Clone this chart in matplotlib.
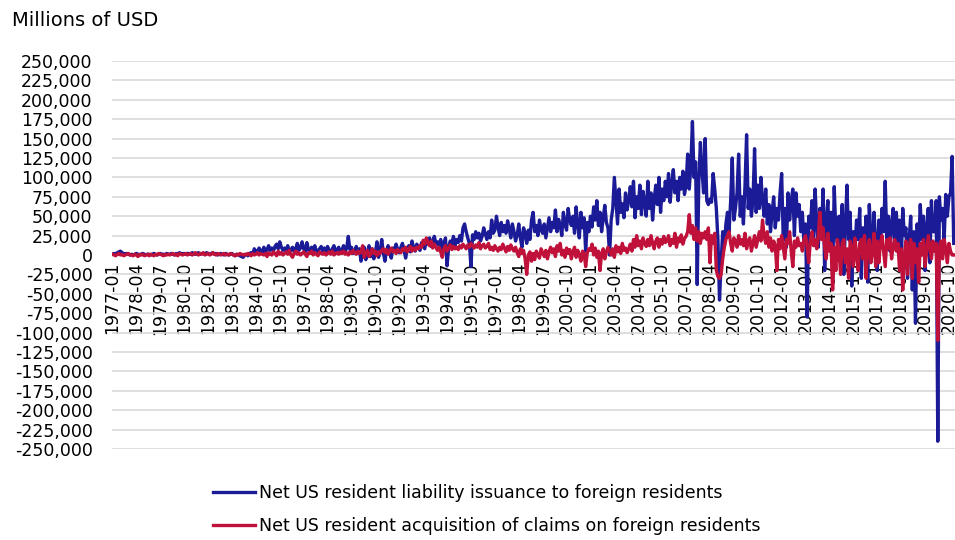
import numpy as np
import matplotlib.pyplot as plt
from matplotlib.ticker import FuncFormatter

# Monthly flows, thousands of millions of USD (i.e. value / 1000), 1977-01 .. 2021-01
liab_k = [
    1, 2, 1, 3, 4, 5, 3, 2, 1, 2, 1, 0,             # 1977
    1, 0, 1, 2, 1, 0, 1, 2, 1, 0, 1, 1,             # 1978
    0, 1, 2, 1, 0, 1, 2, 1, 1, 0, 2, 1,             # 1979
    1, 2, 1, 0, 2, 1, 3, 2, 1, 2, 1, 2,             # 1980
    2, 1, 3, 2, 1, 2, 3, 1, 2, 2, 1, 3,             # 1981
    2, 1, 2, 3, 1, 2, 0, 1, 2, 1, 0, 2,             # 1982
    1, 0, 1, 2, 0, -1, 1, 0, -1, -2, -3, 0,         # 1983
    1, -1, 2, 3, 1, 8, 5, 3, 9, 6, 2, 10,           # 1984
    4, 7, 12, 6, 9, 5, 11, 14, 8, 17, 10, 6,        # 1985
    9, 5, 12, 3, 7, 10, 4, 8, 15, 6, 9, 17,         # 1986
    8, 4, 16, 7, 3, 10, 5, 12, 2, 6, 8, 11,         # 1987
    5, 9, 3, 11, 6, 2, 8, 12, 4, 7, 10, 3,          # 1988
    6, 12, 4, 9, 24, 7, 10, 2, 5, 11, 3, 8,         # 1989
    -8, 2, 10, -6, 4, 12, -2, 8, -5, 3, 17, -3,     # 1990
    5, 20, 3, -8, 6, 12, 2, -4, 9, 5, 14, 7,        # 1991
    3, 10, 15, 6, -4, 8, 12, 4, 18, 9, 5, 14,       # 1992
    10, 6, 16, 12, 8, 20, 14, 22, 11, 18, 24, 15,   # 1993
    17, 12, 20, 8, 15, 22, -14, 10, 18, 14, 24, 12, # 1994
    20, 16, 25, 18, 35, 40, 30, 22, 15, -15, 26, 20,  # 1995
    30, 22, 28, 18, 24, 35, 27, 20, 30, 22, 45, 28,   # 1996
    32, 50, 36, 25, 42, 30, 38, 28, 44, 34, 22, 40,   # 1997
    30, 18, 26, 40, 22, 10, 35, 28, 15, 32, 20, 45,   # 1998
    55, 30, 38, 25, 45, 32, 28, 40, 22, 35, 48, 30,   # 1999
    42, 35, 58, 30, 46, 38, 25, 55, 40, 32, 60, 45,   # 2000
    38, 50, 28, 62, 40, 22, 55, 35, 48, 5, 42, 30,    # 2001
    50, 36, 62, 45, 70, 38, 55, 30, 48, 64, 42, 35,   # 2002
    0, 45, 60, 100, 70, 40, 85, 55, 66, 48, 80, 58,   # 2003
    70, 88, 62, 95, 48, 75, 60, 90, 52, 82, 68, 50,   # 2004
    95, 60, 80, 45, 72, 90, 65, 100, 55, 85, 70, 95,  # 2005
    75, 105, 68, 92, 110, 80, 95, 70, 100, 85, 108, 78,   # 2006
    90, 130, 85, 115, 172, 100, 120, -38, 95, 145, 110, 80,  # 2007
    150, 70, 65, 72, 68, 105, 85, 60, 20, -58, -10, 30,   # 2008
    10, 40, 55, 30, 70, 125, 45, 60, 80, 130, 50, 75,     # 2009
    40, 90, 155, 60, 85, 50, 70, 137, 55, 90, 60, 100,    # 2010
    70, 50, 85, 40, 65, 30, 55, 75, 35, 60, 45, 80,       # 2011
    105, 20, 60, 10, 80, 45, 70, 85, 25, 80, 50, 65,      # 2012
    30, 55, 15, 40, -80, 50, 35, 70, 20, 85, 40, 10,      # 2013
    60, 25, 85, -20, 45, 70, 10, 55, -30, 88, 30, 15,     # 2014
    50, 10, 65, -25, 40, 90, 20, 55, -40, 30, 5, 45,      # 2015
    20, 60, -30, 35, 10, 50, -35, 65, 25, 0, 55, 15,      # 2016
    -20, 45, 10, 60, 30, 95, 20, 50, 5, 40, 60, 15,       # 2017
    55, 10, 45, -15, 60, 25, 35, -30, 20, 50, -45, 30,    # 2018
    -88, 40, 10, 65, 20, 50, -20, 35, 60, -10, 70, 30,    # 2019
    30, 70, -240, 75, 45, 60, 20, 78, 50, 75, 80, 127,    # 2020
    15,                                                   # 2021
]

claims_k = [
    1, 0, -1, 1, 2, 0, 1, -1, 0, 1, 2, 0,           # 1977
    0, -1, 1, 0, -2, 1, 0, 1, -1, 0, 1, -1,         # 1978
    1, 0, -1, 1, 0, 2, 1, 0, -1, 1, 0, 1,           # 1979
    0, 1, 2, 0, 1, -1, 2, 1, 0, 1, 2, 0,            # 1980
    1, 2, 0, 1, 3, 1, 0, 2, 1, 3, 0, 1,             # 1981
    2, 0, 1, 3, 1, 0, 2, 1, 0, 1, 2, 0,             # 1982
    1, 0, 2, 1, 0, -1, 1, 0, 2, 1, 0, 1,            # 1983
    0, 2, 1, -1, 2, 0, 1, 3, 0, 2, 1, 0,            # 1984
    2, -2, 3, 1, 0, 4, 2, -1, 5, 1, 3, 0,           # 1985
    2, 4, 1, 6, 0, -3, 2, 5, 1, 3, 0, 2,            # 1986
    4, 1, -2, 3, 2, 5, 0, 3, 1, -1, 4, 2,           # 1987
    1, 3, 0, 2, 4, 1, 5, 0, 2, 3, 1, 4,             # 1988
    2, 5, 1, 3, 0, 4, 2, 6, 3, 1, 5, 2,             # 1989
    4, 12, -3, 3, 6, -2, 1, 8, 2, 5, -1, 4,         # 1990
    2, 6, 8, 3, 7, 1, 5, 9, 4, 6, 2, 7,             # 1991
    5, 3, 8, 6, 10, 4, 7, 11, 5, 9, 6, 10,          # 1992
    8, 12, 10, 19, 14, 22, 16, 12, 18, 9, 14, 10,   # 1993
    6, 10, 4, -3, 8, 12, 5, 9, 13, 7, 11, 8,        # 1994
    10, 7, 12, 9, 14, 11, 8, 13, 10, 15, 12, 9,     # 1995
    13, 10, 16, 8, 12, 14, 9, 11, 15, 7, 10, 6,     # 1996
    12, 8, 5, 10, 7, 14, 9, 4, 11, 6, 13, 8,        # 1997
    5, 10, 3, -2, 8, 2, 6, -5, -25, 0, 4, -8,       # 1998
    2, -6, 5, 0, -4, 8, 3, -2, 6, -5, 4, 10,        # 1999
    3, 8, -2, 12, 5, 15, 0, 6, -3, 9, 2, 7,         # 2000
    -5, 4, 10, -3, 6, 0, -8, 5, 2, -15, 3, 8,       # 2001
    6, 14, 0, 9, -3, 5, -20, 2, 8, -5, 4, 10,       # 2002
    5, 0, 8, -3, 12, 4, 10, 2, 15, 6, 9, 3,         # 2003
    8, 14, 5, 20, 10, 25, 12, 18, 8, 22, 15, 11,    # 2004
    20, 12, 25, 15, 8, 18, 22, 10, 20, 14, 24, 16,  # 2005
    18, 25, 12, 20, 15, 28, 10, 22, 17, 26, 14, 21, # 2006
    24, 30, 52, 28, 38, 20, 35, 18, 30, 15, 28, 22, # 2007
    30, 20, 35, -10, 25, 15, 28, -20, -28, -30, -25, -5,  # 2008
    10, 20, 25, 30, 15, 5, 22, 18, 10, 25, 14, 20,  # 2009
    12, 28, 8, 18, 22, 5, 15, 25, 10, 20, 30, 18,   # 2010
    45, 25, 15, 30, 10, 22, 5, 18, 12, -20, 20, 8,  # 2011
    25, 10, -5, 20, 15, 30, 5, -15, 18, 10, 22, 12, # 2012
    15, 5, 20, 25, 10, -10, 18, 30, 12, 20, 8, 25,  # 2013
    55, 20, 35, 10, -5, 28, 5, 15, -45, 10, -20, 20,    # 2014
    5, -25, 15, 20, -10, 8, -30, 18, 10, -15, 22, 0,    # 2015
    -20, 15, 20, -5, 25, -30, 10, 20, -10, 5, 28, -15,  # 2016
    18, -10, 15, 25, 5, -15, 20, 8, 22, -5, 12, 20,     # 2017
    5, 15, -20, 8, -45, 0, 18, -25, 10, 20, -30, 15,    # 2018
    -10, 8, -35, 15, 0, 20, -15, 5, 25, 10, -5, 18,     # 2019
    5, 15, -110, 10, 18, -5, 20, 8, -10, 15, 5, 0,      # 2020
    0,                                                  # 2021
]

tick_labels = [
    "1977-01", "1978-04", "1979-07", "1980-10", "1982-01", "1983-04", "1984-07",
    "1985-10", "1987-01", "1988-04", "1989-07", "1990-10", "1992-01", "1993-04",
    "1994-07", "1995-10", "1997-01", "1998-04", "1999-07", "2000-10", "2002-01",
    "2003-04", "2004-07", "2005-10", "2007-01", "2008-04", "2009-07", "2010-10",
    "2012-01", "2013-04", "2014-07", "2015-10", "2017-01", "2018-04", "2019-07",
    "2020-10",
]
tick_step = 15  # months between labels

assert len(liab_k) == len(claims_k)

liab = np.array(liab_k) * 1000
claims = np.array(claims_k) * 1000
x = np.arange(len(liab))

BLUE = "#1b1a97"
RED = "#c0113a"

fig = plt.figure(figsize=(9.55, 5.4), dpi=100)
ax = fig.add_axes([112 / 955, 1 - 449 / 540, 843 / 955, 388 / 540])

# spine position first: moving it resets the tick labels
for s in ax.spines.values():
    s.set_visible(False)
ax.spines["bottom"].set_position(("data", 0))

l1, = ax.plot(x, liab, color=BLUE, linewidth=2.4, solid_joinstyle="round",
              label="Net US resident liability issuance to foreign residents")
l2, = ax.plot(x, claims, color=RED, linewidth=2.4, solid_joinstyle="round",
              label="Net US resident acquisition of claims on foreign residents")

ax.set_ylim(-250000, 250000)
ax.set_yticks(np.arange(-250000, 250001, 25000))
ax.yaxis.set_major_formatter(FuncFormatter(lambda v, p: f"{int(v):,}"))
ax.set_xlim(-0.3, 528.8)
ax.set_xticks(np.arange(len(tick_labels)) * tick_step)
ax.set_xticklabels(tick_labels)

ax.grid(axis="y", color="#d9d9d9", linewidth=1.2)
ax.set_axisbelow(True)
ax.tick_params(axis="both", length=0, labelsize=12.5)
ax.tick_params(axis="y", pad=14)
ax.tick_params(axis="x", pad=5, labelrotation=90)

fig.text(12 / 955, 1 - 20 / 540, "Millions of USD", fontsize=14, va="center", ha="left")

fig.legend(handles=[l1, l2], loc="upper left", bbox_to_anchor=(213 / 955, 1 - 484 / 540),
           frameon=False, fontsize=12.5, handlelength=2.4, handletextpad=0.25,
           labelspacing=0.85, borderaxespad=0, borderpad=0)

fig.savefig("out.png", dpi=100)
